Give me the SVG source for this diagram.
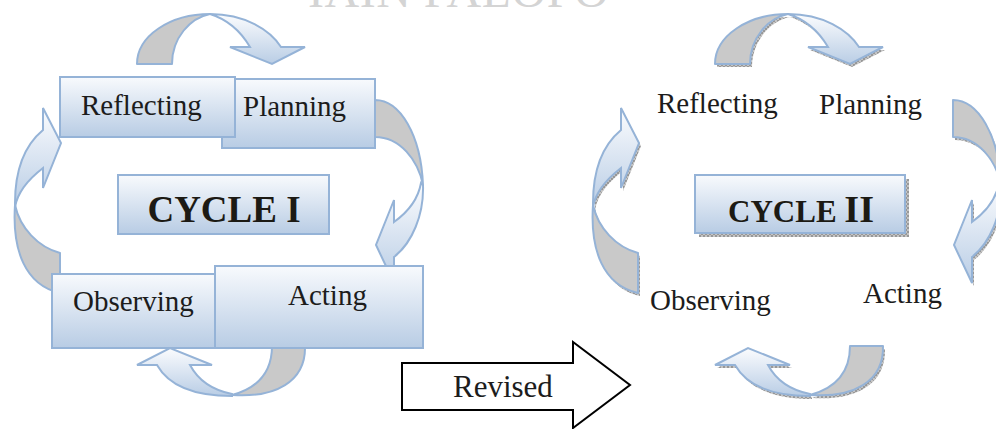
<svg xmlns="http://www.w3.org/2000/svg" width="996" height="429" viewBox="0 0 996 429">
<style>
.gray{fill:#c9c9c9;stroke:#95b3d7;stroke-width:2;stroke-linejoin:round}
.front{fill:url(#arrGrad);stroke:#95b3d7;stroke-width:2;stroke-linejoin:miter}
.shadow{fill:url(#hatch);stroke:none}
.box{fill:url(#boxGrad);stroke:#95b3d7;stroke-width:2}
.lbl{font-family:"Liberation Serif","Times New Roman",serif;font-size:29px;fill:#1c1c1c}
.title{font-family:"Liberation Serif","Times New Roman",serif;font-weight:bold;fill:#1c1a14}
.wm{font-family:"Liberation Serif","Times New Roman",serif;font-size:48px;fill:#d4d4d4}
</style>
<defs>
<linearGradient id="boxGrad" x1="0" y1="0" x2="0" y2="1">
<stop offset="0" stop-color="#f8fafd"/>
<stop offset="1" stop-color="#b8cce4"/>
</linearGradient>
<linearGradient id="arrGrad" x1="0" y1="0" x2="0" y2="1">
<stop offset="0" stop-color="#fbfcfe"/>
<stop offset="1" stop-color="#b9cde5"/>
</linearGradient>
<pattern id="hatch" width="4" height="4" patternUnits="userSpaceOnUse">
<rect width="4" height="4" fill="#c4c4c4"/>
<path d="M0,4 L4,0 M0,0 L4,4" stroke="#7a7a7a" stroke-width="0.6"/>
</pattern>
<path id="tG" d="M137,64 C137,36 170,14 210,14 C190,18 172,38 172,64 Z"/>
<path id="tF" d="M210,14 C245,14 270,30 281,47 L305,47 L272,64 L230,47 L250,47 C240,30 226,19 210,14 Z"/>
<path id="rG" d="M375,100 C400,100 421,135 423,185 C418,160 400,137 375,137 Z"/>
<path id="rF" d="M423,185 C424,215 412,243 394,257 L394,283 L376,245 L394,200 L394,222 C408,212 418,200 421,183 Z"/>
<path id="bG" d="M305,346 C306,382 275,398 232,395 C258,388 272,372 272,346 Z"/>
<path id="bF" d="M232,396 C200,396 170,388 157,365 L137,365 L170,348 L212,365 L190,365 C198,380 212,390 232,394 Z"/>
<path id="lG" d="M15,205 C12,250 25,285 60,293 L60,253 C38,247 20,228 15,205 Z"/>
<path id="lF" d="M15,203 C15,170 25,145 43,130 L43,108 L61,143 L43,188 L43,168 C30,178 18,190 15,207 Z"/>
</defs>

<text class="wm" x="308" y="7" letter-spacing="0.5">IAIN PALOPO</text>

<g id="connectors">
  <g id="cycle1-arrows">
    <use href="#tG" class="gray"/><use href="#tF" class="front"/>
    <use href="#rG" class="gray"/><use href="#rF" class="front"/>
    <use href="#bG" class="gray"/><use href="#bF" class="front"/>
    <use href="#lG" class="gray"/><use href="#lF" class="front"/>
  </g>
  <g id="cycle2-arrows-shadow" transform="translate(580,3)">
    <use href="#tG" class="shadow"/><use href="#tF" class="shadow"/>
    <use href="#rG" class="shadow"/><use href="#rF" class="shadow"/>
    <use href="#bG" class="shadow"/><use href="#bF" class="shadow"/>
    <use href="#lG" class="shadow"/><use href="#lF" class="shadow"/>
  </g>
  <g id="cycle2-arrows" transform="translate(578,0)">
    <use href="#tG" class="gray"/><use href="#tF" class="front"/>
    <use href="#rG" class="gray"/><use href="#rF" class="front"/>
    <use href="#bG" class="gray"/><use href="#bF" class="front"/>
    <use href="#lG" class="gray"/><use href="#lF" class="front"/>
  </g>
  <g id="revised">
    <path d="M402,363 L573,363 L573,342 L630,385 L573,428 L573,410 L402,410 Z" fill="#ffffff" stroke="#000000" stroke-width="2"/>
    <text class="lbl" x="453" y="397" style="font-size:31px">Revised</text>
  </g>
</g>

<g id="planning1">
  <rect class="box" x="222" y="79" width="153" height="69"/>
  <text class="lbl" x="243" y="116">Planning</text>
</g>
<g id="reflecting1">
  <rect class="box" x="60" y="77" width="175" height="60"/>
  <text class="lbl" x="81" y="115">Reflecting</text>
</g>
<g id="cycle1">
  <rect class="box" x="118" y="175" width="211" height="59"/>
  <text class="title" x="224" y="222" text-anchor="middle" font-size="37">CYCLE I</text>
</g>
<g id="observing1">
  <rect class="box" x="52" y="274" width="163" height="74"/>
  <text class="lbl" x="73" y="311">Observing</text>
</g>
<g id="acting1">
  <rect class="box" x="215" y="266" width="208" height="82"/>
  <text class="lbl" x="288" y="305">Acting</text>
</g>

<g id="reflecting2"><text class="lbl" x="657" y="113">Reflecting</text></g>
<g id="planning2"><text class="lbl" x="819" y="114">Planning</text></g>
<g id="cycle2">
  <rect x="699" y="179" width="210" height="58" fill="url(#hatch)"/>
  <rect class="box" x="695" y="175" width="210" height="58"/>
  <text class="title" x="801" y="222" text-anchor="middle"><tspan font-size="31">CYCLE </tspan><tspan font-size="38">II</tspan></text>
</g>
<g id="observing2"><text class="lbl" x="650" y="310">Observing</text></g>
<g id="acting2"><text class="lbl" x="863" y="303">Acting</text></g>
</svg>
